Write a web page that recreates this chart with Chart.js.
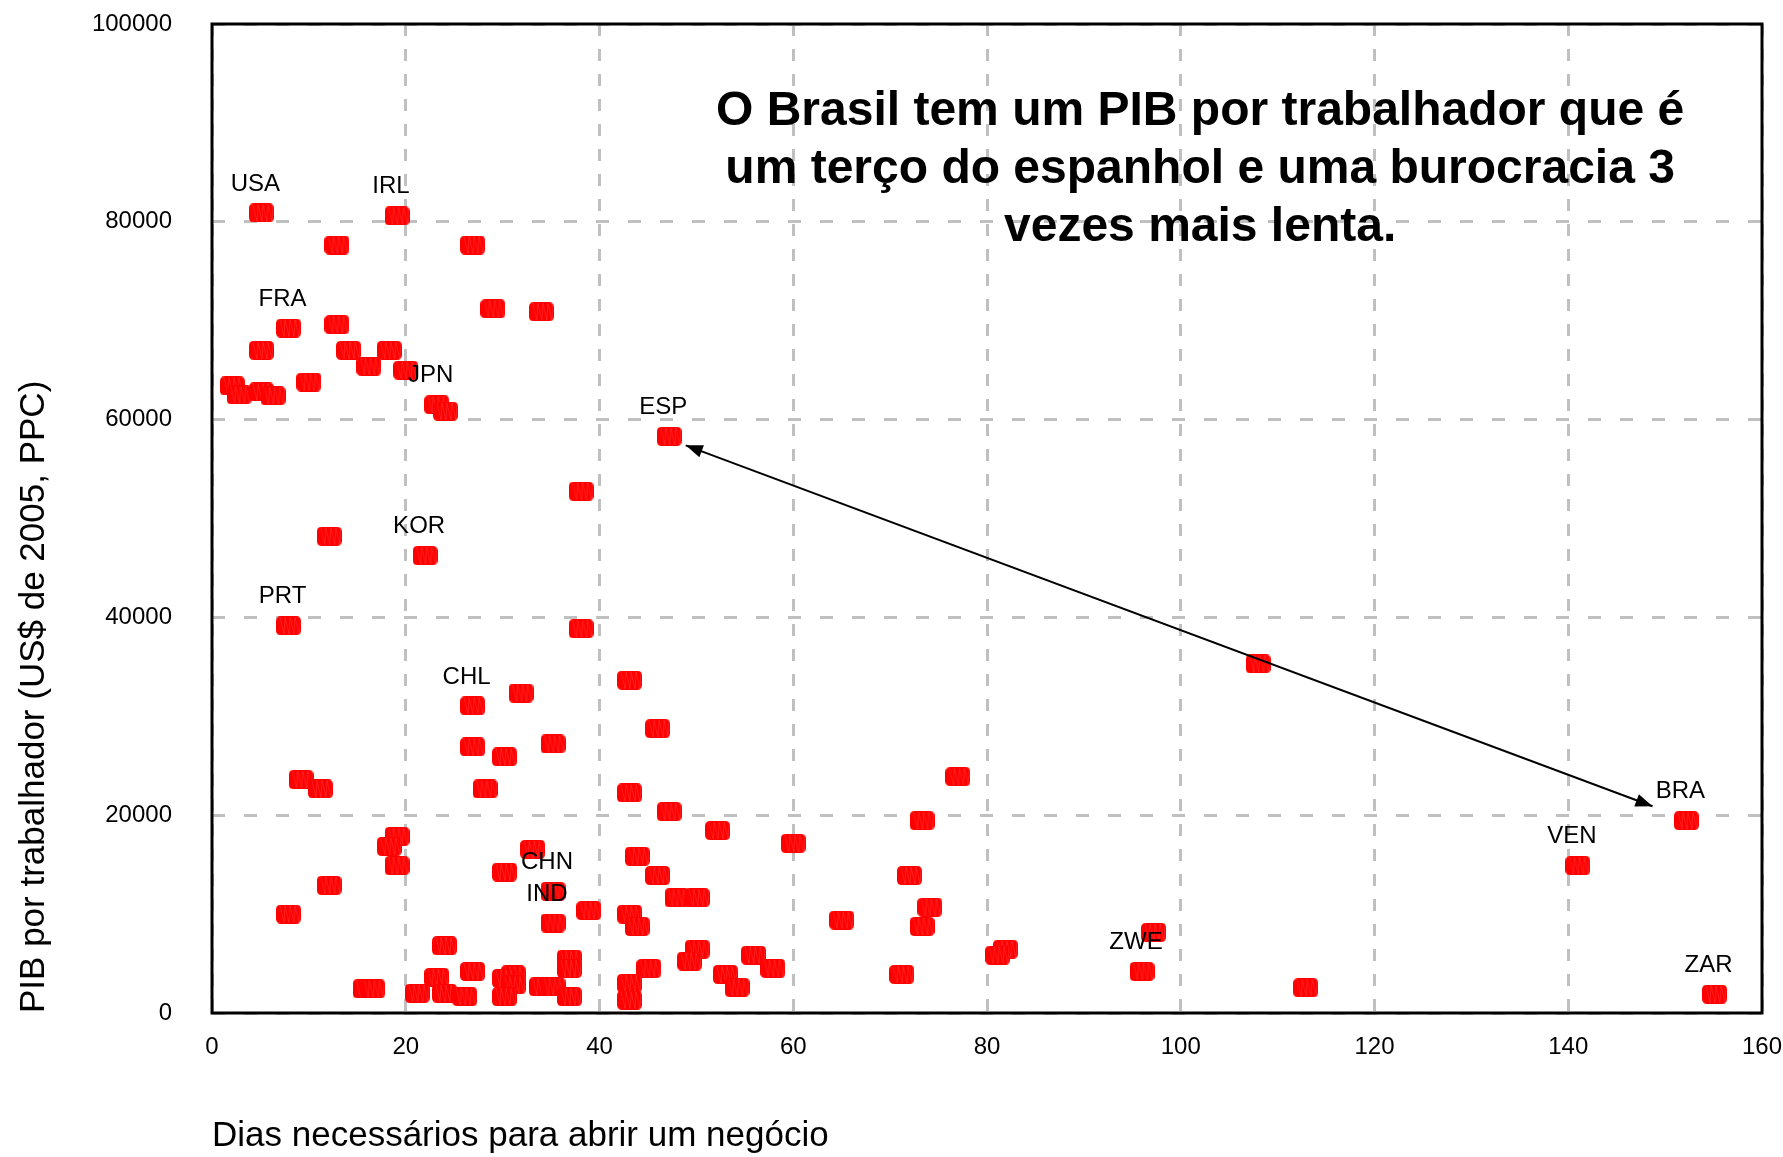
<!DOCTYPE html>
<html lang="pt-BR">
<head>
<meta charset="utf-8">
<title>PIB por trabalhador e dias para abrir um negócio</title>
<script src="https://cdn.jsdelivr.net/npm/chart.js@4.4.1/dist/chart.umd.min.js"></script>
<style>
  html, body { margin: 0; padding: 0; background: #fff; }
  #grafico { display: block; }
</style>
</head>
<body>
<canvas id="grafico" width="1783" height="1157"></canvas>
<script>
// Dados (dias para abrir um negócio x PIB por trabalhador)
const diasAbrir = [
  5.1, 19.1, 12.9, 26.9, 29.0, 34.0, 7.9, 12.9, 5.1, 14.1,
  18.3, 16.2, 20.0, 10.0, 2.1, 2.8, 5.1, 6.3, 23.2, 24.1,
  47.2, 38.1, 12.1, 22.0, 7.9, 38.1, 43.1, 31.9, 26.9, 46.0,
  35.2, 26.9, 30.2, 9.2, 11.2, 28.2, 43.1, 47.2, 19.1, 18.3,
  19.1, 33.1, 30.2, 43.9, 46.0, 48.0, 50.1, 12.1, 35.2, 38.9,
  7.9, 43.1, 43.9, 35.2, 24.0, 36.9, 36.9, 45.1, 50.1, 49.3,
  26.9, 23.2, 31.1, 30.2, 31.1, 15.8, 16.6, 21.2, 24.0, 26.1,
  30.2, 34.0, 35.2, 36.9, 43.1, 43.1, 77.0, 73.3, 52.2, 60.0,
  72.0, 74.1, 65.0, 73.3, 55.9, 57.9, 53.0, 54.2, 71.2, 81.9,
  81.1, 97.2, 96.0, 108.0, 141.0, 112.9, 152.2, 155.1
];
const pibTrabalhador = [
  80900, 80600, 77650, 77650, 71200, 70900, 69250, 69600, 67000, 67000,
  67000, 65400, 65000, 63800, 63400, 62500, 62800, 62400, 61500, 60850,
  58300, 52750, 48200, 46250, 39150, 38850, 33650, 32350, 31050, 28750,
  27200, 26900, 25900, 23600, 22650, 22650, 22250, 20350, 17850, 16850,
  14900, 16550, 14250, 15850, 13900, 11650, 11650, 12900, 12300, 10350,
  10000, 10000, 8750, 9100, 6800, 5450, 4500, 4500, 6450, 5250,
  4200, 3600, 3850, 3500, 2850, 2450, 2450, 2000, 2000, 1650,
  1650, 2650, 2650, 1650, 3000, 1300, 23900, 19450, 18450, 17150,
  13900, 10700, 9400, 8750, 5850, 4500, 3900, 2600, 3900, 6450,
  5850, 8150, 4200, 35300, 14900, 2550, 19450, 1900
];
const paises = [
  'USA', 'IRL', '', '', '', '', 'FRA', '', '', '',
  '', '', '', '', '', '', '', '', 'JPN', '',
  'ESP', '', '', 'KOR', 'PRT', '', '', '', 'CHL', '',
  '', '', '', '', '', '', '', '', '', '',
  '', '', '', '', '', '', '', '', 'CHN', '',
  '', '', '', 'IND', '', '', '', '', '', '',
  '', '', '', '', '', '', '', '', '', '',
  '', '', '', '', '', '', '', '', '', '',
  '', '', '', '', '', '', '', '', '', '',
  '', '', 'ZWE', '', 'VEN', '', 'BRA', 'ZAR'
];

const ticksX = [0, 20, 40, 60, 80, 100, 120, 140, 160];
const ticksY = [0, 20000, 40000, 60000, 80000, 100000];

// Seta ESP -> BRA (em unidades dos eixos)
const setaX = [48.9, 148.7];
const setaY = [57400, 20900];

const tituloLinhas = [
  'O Brasil tem um PIB por trabalhador que é',
  'um terço do espanhol e uma burocracia 3',
  'vezes mais lenta.'
];
const tituloAncora = [102, 91150];

const fonte = '"Liberation Sans", Arial, Helvetica, sans-serif';

// Marcador: quadrado vermelho arredondado, um pouco mais largo que alto
function criarMarcador() {
  const c = document.createElement('canvas');
  c.width = 25;
  c.height = 19;
  const g = c.getContext('2d');
  g.fillStyle = '#ff0000';
  g.beginPath();
  g.moveTo(5, 0);
  g.lineTo(20, 0);
  g.quadraticCurveTo(25, 0, 25, 5);
  g.lineTo(25, 14);
  g.quadraticCurveTo(25, 19, 20, 19);
  g.lineTo(5, 19);
  g.quadraticCurveTo(0, 19, 0, 14);
  g.lineTo(0, 5);
  g.quadraticCurveTo(0, 0, 5, 0);
  g.closePath();
  g.fill();
  // hachura fraca
  g.strokeStyle = 'rgba(255,150,150,0.4)';
  g.lineWidth = 0.5;
  g.beginPath();
  g.moveTo(4, 1);
  for (let k = 0; k < 4; k++) {
    g.lineTo(8 + k * 5, 18);
    g.lineTo(9 + k * 5, 1);
  }
  g.stroke();
  return c;
}

function pontaSeta(ctx, xa, ya, xb, yb) {
  const ang = Math.atan2(yb - ya, xb - xa);
  ctx.save();
  ctx.translate(xb, yb);
  ctx.rotate(ang);
  ctx.beginPath();
  ctx.moveTo(0, 0);
  ctx.lineTo(-17, -6.5);
  ctx.lineTo(-17, 6.5);
  ctx.closePath();
  ctx.fill();
  ctx.restore();
}

const anotacoes = {
  id: 'anotacoes',
  beforeDatasetsDraw(chart) {
    const { ctx, chartArea: a } = chart;
    ctx.save();
    ctx.strokeStyle = '#000';
    ctx.lineWidth = 3;
    ctx.strokeRect(a.left, a.top, a.right - a.left, a.bottom - a.top);
    ctx.restore();
  },
  afterDatasetsDraw(chart) {
    const { ctx, scales: { x, y } } = chart;
    const meta = chart.getDatasetMeta(0);
    ctx.save();
    ctx.fillStyle = '#000';
    ctx.textAlign = 'center';
    ctx.textBaseline = 'middle';

    // rótulos dos países
    ctx.font = '24px ' + fonte;
    meta.data.forEach((pt, i) => {
      if (paises[i]) ctx.fillText(paises[i], pt.x - 6, pt.y - 29);
    });

    // seta de duas pontas
    const x1 = x.getPixelForValue(setaX[0]);
    const y1 = y.getPixelForValue(setaY[0]);
    const x2 = x.getPixelForValue(setaX[1]);
    const y2 = y.getPixelForValue(setaY[1]);
    ctx.strokeStyle = '#000';
    ctx.lineWidth = 2;
    ctx.beginPath();
    ctx.moveTo(x1, y1);
    ctx.lineTo(x2, y2);
    ctx.stroke();
    pontaSeta(ctx, x2, y2, x1, y1);
    pontaSeta(ctx, x1, y1, x2, y2);

    // texto em destaque
    ctx.font = 'bold 48px ' + fonte;
    const tx = x.getPixelForValue(tituloAncora[0]);
    const ty = y.getPixelForValue(tituloAncora[1]);
    tituloLinhas.forEach((linha, i) => ctx.fillText(linha, tx, ty + i * 58));
    ctx.restore();
  }
};

// zera o espaço extra que o Chart.js reserva para rótulos nas pontas dos eixos
function semPaddingExtra(s) {
  s.paddingTop = 0;
  s.paddingBottom = 0;
  s.paddingLeft = 0;
  s.paddingRight = 0;
}

Chart.defaults.font.family = fonte;
Chart.defaults.color = '#000';

new Chart(document.getElementById('grafico').getContext('2d'), {
  type: 'scatter',
  data: {
    datasets: [{
      data: diasAbrir.map((d, i) => ({ x: d, y: pibTrabalhador[i] })),
      pointStyle: criarMarcador(),
      backgroundColor: '#ff0000',
      borderColor: '#ff0000'
    }]
  },
  options: {
    responsive: false,
    animation: false,
    devicePixelRatio: 1,
    events: [],
    layout: { padding: { top: 24, right: 21, left: 0, bottom: 0 } },
    plugins: { legend: { display: false }, tooltip: { enabled: false } },
    scales: {
      x: {
        type: 'linear',
        min: 0,
        max: 160,
        afterBuildTicks: s => { s.ticks = ticksX.map(v => ({ value: v })); },
        afterFit: s => { s.height = 144; semPaddingExtra(s); },
        ticks: { color: '#000', font: { size: 24 }, padding: 20, maxRotation: 0 },
        grid: { color: '#c0c0c0', lineWidth: 3, drawTicks: false },
        border: { display: false, dash: [12, 13] },
        title: {
          display: true,
          text: 'Dias necessários para abrir um negócio',
          align: 'start',
          color: '#000',
          font: { size: 35 },
          padding: { top: 0, bottom: 0 }
        }
      },
      y: {
        type: 'linear',
        min: 0,
        max: 100000,
        afterBuildTicks: s => { s.ticks = ticksY.map(v => ({ value: v })); },
        afterFit: s => { s.width = 212; semPaddingExtra(s); },
        ticks: { color: '#000', font: { size: 24 }, padding: 40, callback: v => String(v) },
        grid: { color: '#c0c0c0', lineWidth: 3, drawTicks: false },
        border: { display: false, dash: [13, 19] },
        title: {
          display: true,
          text: 'PIB por trabalhador (US$ de 2005, PPC)',
          align: 'start',
          color: '#000',
          font: { size: 35 },
          padding: { top: 13, bottom: 0 }
        }
      }
    }
  },
  plugins: [anotacoes]
});
</script>
</body>
</html>
